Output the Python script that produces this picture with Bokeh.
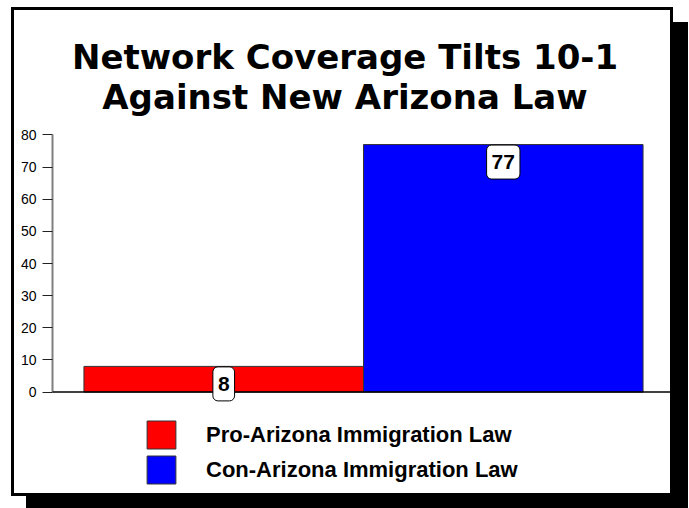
from bokeh.plotting import figure
from bokeh.models import (ColumnDataSource, Range1d, FactorRange, Span, Label,
                          SingleIntervalTicker)
from bokeh.core.properties import value
from bokeh.embed import file_html
from bokeh.resources import INLINE

# ---- data ----
title_lines = ["Network Coverage Tilts 10-1", "Against New Arizona Law"]
categories = ["Pro-Arizona Immigration Law", "Con-Arizona Immigration Law"]
values = [8, 77]
colors = ["#FF0000", "#0000FF"]
y_tick_interval = 10
y_axis_max = 80

src = ColumnDataSource(dict(cat=categories, val=values, color=colors,
                            txt=[str(v) for v in values]))

p = figure(width=662, height=489, output_backend="svg", toolbar_location=None,
           x_range=FactorRange(factors=categories, range_padding=0.1125,
                               range_padding_units="percent"),
           y_range=Range1d(-33.4, 118.7),
           x_axis_location=None, y_axis_location="left",
           min_border_left=38, min_border_right=2, min_border_top=0, min_border_bottom=0)

p.styles = {"margin-left": "11px", "margin-top": "7px",
            "border": "3px solid black", "box-shadow": "15px 15px 0 0 black"}

p.outline_line_color = None
p.background_fill_color = "white"
p.border_fill_color = "white"
p.xgrid.visible = False
p.ygrid.visible = False

ax = p.yaxis[0]
ax.ticker = SingleIntervalTicker(interval=y_tick_interval, num_minor_ticks=0)
ax.bounds = (0, y_axis_max)
ax.axis_line_color = "#808080"
ax.axis_line_width = 2
ax.major_tick_line_color = "#222222"
ax.major_tick_out = 10
ax.major_tick_in = 0
ax.minor_tick_line_color = None
ax.major_label_standoff = 6
ax.major_label_text_font = "Liberation Sans"
ax.major_label_text_font_size = "14px"
ax.major_label_text_color = "black"

r = p.vbar(x="cat", top="val", width=1.0, source=src, fill_color="color",
           line_color="#333333", line_width=1, legend_field="cat")

p.add_layout(Span(location=0, dimension="width", line_color="black", line_width=1.5))

t = p.text(x="cat", y="val", text="txt", source=src,
           text_font=value("Liberation Sans"), text_font_style="bold",
           text_font_size="21px", text_align="center", text_baseline="middle",
           y_offset=17.5, background_fill_color="white", border_line_color="black",
           border_line_width=1, padding=dict(x=5, y=10), border_radius=5)
t.level = "overlay"

for i, line in enumerate(title_lines):
    p.add_layout(Label(x=292.5, y=443 - 40 * i, x_units="screen", y_units="screen",
                       text=line, text_font="DejaVu Sans", text_font_style="bold",
                       text_font_size="34px", text_align="center",
                       text_baseline="alphabetic", text_color="black"))

lg = p.legend[0]
lg.location = (91, 12)
lg.padding = 0
lg.margin = 0
lg.spacing = 0
lg.glyph_width = 36
lg.glyph_height = 35
lg.label_standoff = 27
lg.label_text_font = "Liberation Sans"
lg.label_text_font_style = "bold"
lg.label_text_font_size = "22px"
lg.label_text_color = "black"
lg.border_line_color = None
lg.background_fill_alpha = 0

open("out.html", "w").write(file_html(p, INLINE))
